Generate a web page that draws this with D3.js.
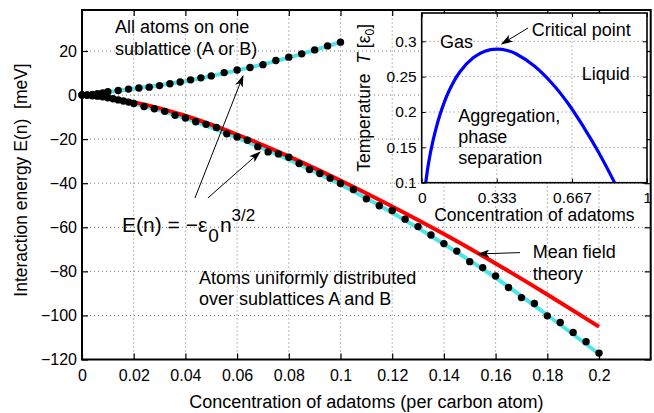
<!DOCTYPE html>
<html>
<head>
<meta charset="utf-8">
<script src="https://cdn.jsdelivr.net/npm/d3@7"></script>
<style>
  body { margin: 0; background: #fff; }
  text { font-family: "Liberation Sans", Arial, Helvetica, sans-serif; fill: #000; white-space: pre; }
</style>
</head>
<body>
<script>
// all atoms on one sublattice (dots)
const upperX = [0, 0.002, 0.004, 0.006, 0.008, 0.010, 0.014, 0.018, 0.022, 0.026, 0.030, 0.034, 0.038,
  0.042, 0.046, 0.050, 0.055, 0.060, 0.065, 0.070, 0.075, 0.080, 0.085, 0.090, 0.095, 0.100];
const upperE = [0, 0.1, 0.3, 0.6, 1.0, 1.5, 2.1, 2.7, 3.2, 3.6, 4.3, 5.1, 5.9,
  6.9, 7.8, 8.7, 10.2, 11.4, 12.5, 13.8, 15.7, 17.2, 18.7, 20.5, 22.3, 24.0];

// atoms spread over A and B (dots)
const lowerX = [0, 0.002, 0.004, 0.006, 0.008, 0.010, 0.012, 0.014, 0.016, 0.018, 0.020,
  0.024, 0.028, 0.032, 0.036, 0.040, 0.044, 0.048, 0.052, 0.056, 0.060, 0.064, 0.068, 0.072,
  0.076, 0.080, 0.084, 0.088, 0.092, 0.096, 0.100,
  0.105, 0.110, 0.115, 0.120, 0.125, 0.130, 0.135, 0.140, 0.145, 0.150, 0.155, 0.160,
  0.165, 0.170, 0.175, 0.180, 0.185, 0.190, 0.195, 0.200];
const lowerE = [0, -0.1, -0.3, -0.5, -0.8, -1.2, -1.7, -2.2, -2.7, -3.2, -3.8,
  -5.2, -6.2, -7.4, -9.2, -10.4, -12.1, -13.3, -14.7, -17.6, -19.0, -20.5, -23.4, -25.8,
  -26.7, -28.2, -31.1, -33.8, -35.6, -37.7, -40.1,
  -42.9, -47.1, -50.2, -52.4, -56.3, -59.7, -63.5, -67.4, -70.8, -75.6, -78.3, -82.1,
  -87.3, -91.9, -94.6, -100.2, -103.2, -107.7, -111.9, -117.1];

// cyan fit lines
const fitUpX = [0, 0.02, 0.04, 0.06, 0.08, 0.10];
const fitUpE = [0, 2.9, 6.3, 11.2, 17.0, 24.0];
const fitLowX = [0, 0.02, 0.04, 0.06, 0.08, 0.10, 0.12, 0.14, 0.16, 0.18, 0.20];
const fitLowE = [0, -3.9, -10.6, -19.4, -29.3, -40.6, -53.4, -67.6, -82.9, -99.8, -117.5];

// mean field theory (red)
const meanX = [0, 0.02, 0.04, 0.06, 0.08, 0.10, 0.12, 0.14, 0.16, 0.18, 0.20];
const meanE = [0, -3.2, -9.4, -17.9, -27.8, -38.8, -50.6, -63.1, -76.4, -90.5, -105.1];

// inset: phase boundary
const phaseC = [0.018, 0.03, 0.05, 0.08, 0.12, 0.17, 0.23, 0.28, 0.333, 0.38, 0.42, 0.5, 0.58, 0.65, 0.72, 0.78, 0.85, 0.856];
const phaseT = [0.100, 0.127, 0.159, 0.195, 0.229, 0.257, 0.277, 0.286, 0.289, 0.287, 0.282, 0.265, 0.240, 0.212, 0.178, 0.146, 0.104, 0.100];

const xTicks = [0, 0.02, 0.04, 0.06, 0.08, 0.1, 0.12, 0.14, 0.16, 0.18, 0.2];
const yTicks = [-120, -100, -80, -60, -40, -20, 0, 20];
const inXTicks = [0, 0.333, 0.667, 1];
const inXLabels = ["0", "0.333", "0.667", "1"];
const inYTicks = [0.1, 0.15, 0.2, 0.25, 0.3];

const W = 654, H = 413;
const svg = d3.select("body").append("svg").attr("width", W).attr("height", H);

const x = d3.scaleLinear().domain([0, 0.22]).range([82, 650.7]);
const y = d3.scaleLinear().domain([-120, 38.6]).range([359.5, 10]);

const zip = (a, b) => a.map((v, i) => [v, b[i]]);
const gridStyle = sel => sel.attr("stroke", "#777").attr("stroke-width", 1).attr("stroke-dasharray", "1,3");

// main grid
svg.append("g").selectAll("line").data(xTicks.slice(1)).join("line")
  .attr("x1", d => x(d)).attr("x2", d => x(d)).attr("y1", y.range()[0]).attr("y2", y.range()[1])
  .call(gridStyle);
svg.append("g").selectAll("line").data(yTicks.slice(1)).join("line")
  .attr("y1", d => y(d)).attr("y2", d => y(d)).attr("x1", x.range()[0]).attr("x2", x.range()[1])
  .call(gridStyle);

const line = d3.line().x(d => x(d[0])).y(d => y(d[1])).curve(d3.curveMonotoneX);

svg.append("path").datum(zip(fitUpX, fitUpE)).attr("d", line)
  .attr("fill", "none").attr("stroke", "#4fe3ea").attr("stroke-width", 4);
svg.append("path").datum(zip(fitLowX, fitLowE)).attr("d", line)
  .attr("fill", "none").attr("stroke", "#4fe3ea").attr("stroke-width", 4);
svg.append("path").datum(zip(meanX, meanE)).attr("d", line)
  .attr("fill", "none").attr("stroke", "#ff0000").attr("stroke-width", 4);

svg.append("g").selectAll("circle").data(zip(upperX, upperE).concat(zip(lowerX, lowerE))).join("circle")
  .attr("cx", d => x(d[0])).attr("cy", d => y(d[1])).attr("r", 3.7).attr("fill", "#000");

// main axes
const fmtX = d => d === 0 ? "0" : d3.format(".2~f")(d);
svg.append("g").attr("transform", `translate(0,${y.range()[0]})`)
  .call(d3.axisBottom(x).tickValues(xTicks).tickSize(-6).tickPadding(10.5).tickFormat(fmtX))
  .call(g => g.select(".domain").remove())
  .call(g => g.selectAll("text").attr("font-size", 16));
svg.append("g").attr("transform", `translate(0,${y.range()[1]})`)
  .call(d3.axisTop(x).tickValues(xTicks).tickSize(-6).tickFormat(""))
  .call(g => g.select(".domain").remove());
svg.append("g").attr("transform", `translate(${x.range()[0]},0)`)
  .call(d3.axisLeft(y).tickValues(yTicks).tickSize(-6).tickPadding(5))
  .call(g => g.select(".domain").remove())
  .call(g => g.selectAll("text").attr("font-size", 16));
svg.append("g").attr("transform", `translate(${x.range()[1]},0)`)
  .call(d3.axisRight(y).tickValues(yTicks).tickSize(-6).tickFormat(""))
  .call(g => g.select(".domain").remove());
svg.selectAll(".tick line").attr("stroke-width", 1.2);
svg.append("rect").attr("x", x.range()[0]).attr("y", y.range()[1])
  .attr("width", x.range()[1] - x.range()[0]).attr("height", y.range()[0] - y.range()[1])
  .attr("fill", "none").attr("stroke", "#000").attr("stroke-width", 2);

// axis titles
svg.append("text").attr("x", (x.range()[0] + x.range()[1]) / 2).attr("y", y.range()[0] + 48)
  .attr("text-anchor", "middle").attr("font-size", 18)
  .text("Concentration of adatoms (per carbon atom)");
svg.append("text").attr("transform", "translate(27.3,180) rotate(-90)")
  .attr("text-anchor", "middle").attr("font-size", 17.5)
  .text("Interaction energy E(n)  [meV]");

// arrows
const defs = svg.append("defs");
defs.append("marker").attr("id", "ah").attr("viewBox", "0 0 12 8").attr("refX", 11).attr("refY", 4)
  .attr("markerWidth", 12).attr("markerHeight", 8).attr("markerUnits", "userSpaceOnUse").attr("orient", "auto")
  .append("path").attr("d", "M0,0 L12,4 L0,8 L3,4 Z").attr("fill", "#000");

function arrow(sx, sy, x1, y1, x2, y2) {
  svg.append("line").attr("x1", sx(x1)).attr("y1", sy(y1)).attr("x2", sx(x2)).attr("y2", sy(y2))
    .attr("stroke", "#000").attr("stroke-width", 1).attr("marker-end", "url(#ah)");
}
function label(sx, sy, px, py, lines, size, gap) {
  const t = svg.append("text").attr("x", sx(px)).attr("y", sy(py)).attr("font-size", size);
  lines.forEach((s, i) => t.append("tspan").attr("x", sx(px)).attr("dy", i ? gap : 0).text(s));
  return t;
}

label(x, y, 0.0128, 28.2, ["All atoms on one", "sublattice (A or B)"], 18, 22);
label(x, y, 0.0453, -85.7, ["Atoms uniformly distributed", "over sublattices A and B"], 18, 21);
label(x, y, 0.1744, -73.9, ["Mean field", "theory"], 18, 22);
arrow(x, y, 0.0437, -46.7, 0.0623, 8.7);
arrow(x, y, 0.0487, -46.7, 0.0689, -25.8);
arrow(x, y, 0.1694, -71.5, 0.1533, -72.1);

const eq = svg.append("text").attr("x", x(0.0155)).attr("y", y(-62.1)).attr("font-size", 21);
eq.append("tspan").text("E(n) = \u2212\u03b5");
eq.append("tspan").attr("font-size", 19).attr("dx", 1).attr("dy", 10).text("0");
eq.append("tspan").attr("dx", 1).attr("dy", -10).text("n");
eq.append("tspan").attr("font-size", 17).attr("dy", -11).text("3/2");

// inset
const ix = d3.scaleLinear().domain([0, 1]).range([421.7, 647]);
const iy = d3.scaleLinear().domain([0.1, 0.34]).range([182.7, 13]);

svg.append("rect").attr("x", ix.range()[0]).attr("y", iy.range()[1])
  .attr("width", ix.range()[1] - ix.range()[0]).attr("height", iy.range()[0] - iy.range()[1])
  .attr("fill", "#fff");
svg.append("g").selectAll("line").data(inXTicks.slice(1, 3)).join("line")
  .attr("x1", d => ix(d)).attr("x2", d => ix(d)).attr("y1", iy.range()[0]).attr("y2", iy.range()[1])
  .call(gridStyle);
svg.append("g").selectAll("line").data(inYTicks.slice(1)).join("line")
  .attr("y1", d => iy(d)).attr("y2", d => iy(d)).attr("x1", ix.range()[0]).attr("x2", ix.range()[1])
  .call(gridStyle);

svg.append("defs").append("clipPath").attr("id", "inclip").append("rect")
  .attr("x", ix.range()[0]).attr("y", iy.range()[1])
  .attr("width", ix.range()[1] - ix.range()[0]).attr("height", iy.range()[0] - iy.range()[1]);
svg.append("path").datum(zip(phaseC, phaseT))
  .attr("d", d3.line().x(d => ix(d[0])).y(d => iy(d[1])).curve(d3.curveCatmullRom))
  .attr("clip-path", "url(#inclip)")
  .attr("fill", "none").attr("stroke", "#0000ff").attr("stroke-width", 3.2);

svg.append("g").attr("transform", `translate(0,${iy.range()[0]})`)
  .call(d3.axisBottom(ix).tickValues(inXTicks).tickSize(-4).tickPadding(9.3).tickFormat((d, i) => inXLabels[i]))
  .call(g => g.select(".domain").remove())
  .call(g => g.selectAll("text").attr("font-size", 15.5));
svg.append("g").attr("transform", `translate(0,${iy.range()[1]})`)
  .call(d3.axisTop(ix).tickValues(inXTicks).tickSize(-4).tickFormat(""))
  .call(g => g.select(".domain").remove());
svg.append("g").attr("transform", `translate(${ix.range()[0]},0)`)
  .call(d3.axisLeft(iy).tickValues(inYTicks).tickSize(-4).tickPadding(5).tickFormat(d3.format("~g")))
  .call(g => g.select(".domain").remove())
  .call(g => g.selectAll("text").attr("font-size", 15.5));
svg.append("g").attr("transform", `translate(${ix.range()[1]},0)`)
  .call(d3.axisRight(iy).tickValues(inYTicks).tickSize(-4).tickFormat(""))
  .call(g => g.select(".domain").remove());
svg.append("rect").attr("x", ix.range()[0]).attr("y", iy.range()[1])
  .attr("width", ix.range()[1] - ix.range()[0]).attr("height", iy.range()[0] - iy.range()[1])
  .attr("fill", "none").attr("stroke", "#000").attr("stroke-width", 1.6);

svg.append("text").attr("x", ix(0.5)).attr("y", iy.range()[0] + 38)
  .attr("text-anchor", "middle").attr("font-size", 17.5).text("Concentration of adatoms");
const yl = svg.append("text").attr("transform", `translate(${ix.range()[0] - 51.7},${(iy.range()[0] + iy.range()[1]) / 2}) rotate(-90)`)
  .attr("text-anchor", "middle").attr("font-size", 17.5);
yl.append("tspan").text("Temperature  ");
yl.append("tspan").attr("font-style", "italic").text("T");
yl.append("tspan").text(" [\u03b5");
yl.append("tspan").attr("font-size", 12).attr("dy", 4).text("0");
yl.append("tspan").attr("dy", -4).text("]");

label(ix, iy, 0.081, 0.2905, ["Gas"], 18, 0);
label(ix, iy, 0.488, 0.3079, ["Critical point"], 18, 0);
label(ix, iy, 0.710, 0.2452, ["Liquid"], 18, 0);
label(ix, iy, 0.1624, 0.1863, ["Aggregation,", "phase", "separation"], 18, 21);
arrow(ix, iy, 0.4718, 0.3188, 0.3551, 0.2962);
</script>
</body>
</html>
